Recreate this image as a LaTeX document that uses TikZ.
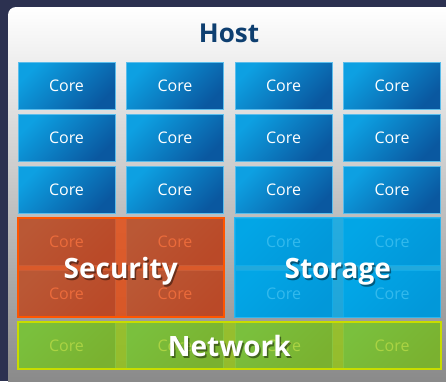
\documentclass[tikz,border=0pt]{standalone}
\usepackage{fontspec}
\setmainfont{Open Sans}
\usetikzlibrary{fit}

\definecolor{backnavy}{HTML}{2C3150}
\definecolor{panelgray}{HTML}{848484}
\definecolor{hostblue}{HTML}{0E3F70}
\definecolor{corelight}{HTML}{0DA0E2}
\definecolor{coredark}{HTML}{0A58A0}
\definecolor{coreedge}{HTML}{5BBDEB}
\definecolor{secfill}{HTML}{E6460A}
\definecolor{secedge}{HTML}{FF5500}
\definecolor{stofill}{HTML}{00A8E8}
\definecolor{stoedge}{HTML}{2DB6F0}
\definecolor{netfill}{HTML}{96C814}
\definecolor{netedge}{HTML}{C8DC00}

\begin{document}
\begin{tikzpicture}[x=1pt,y=-1pt,
    core/.style={rectangle,draw=coreedge,line width=0.6pt,
      top color=corelight,bottom color=coredark,shading angle=45,
      minimum width=97pt,minimum height=47pt,inner sep=0pt,
      text=white,font=\fontsize{16}{18}\selectfont},
    group/.style={rectangle,inner sep=0pt,line width=2pt,fill opacity=0.8},
    grouplabel/.style={anchor=base,text=white,font=\bfseries\fontsize{28}{30}\selectfont},
    groupshade/.style={grouplabel,text=black,opacity=0.45}]
  \useasboundingbox (0,0) rectangle (446,381);
  \clip (0,0) rectangle (446,381);
  \fill[backnavy] (0,0) rectangle (446,381);
  % host panel, white fading to gray
  \shade[rounded corners=8pt,top color=white,middle color=white,bottom color=panelgray]
    (8,7) rectangle (470,400);
  \node[anchor=base,text=hostblue,font=\bfseries\fontsize{26}{28}\selectfont] (host) at (229,42.7) {Host};
  % 6 x 4 cores
  \foreach \r in {1,...,6}
    \foreach \c in {1,...,4}
      \node[core] (core-\r-\c) at ({66.5+(\c-1)*108.5},{85.5+(\r-1)*52}) {Core};
  % groups laid over the cores
  \node[group,draw=secedge,fill=secfill,fit=(core-4-1)(core-5-2)] (security) {};
  \node[group,draw=stoedge,line width=1.2pt,fill=stofill,fit=(core-4-3)(core-5-4)] (storage) {};
  \node[group,draw=netedge,fill=netfill,fit=(core-6-1)(core-6-4)] (network) {};
  % labels with drop shadow
  \node[groupshade] (security-shade) at ([xshift=1.5pt,yshift=-12.5pt]security.center) {Security};
  \node[grouplabel] (security-label) at ([yshift=-10.5pt]security.center) {Security};
  \node[groupshade] (storage-shade) at ([xshift=1.5pt,yshift=-12.5pt]storage.center) {Storage};
  \node[grouplabel] (storage-label) at ([yshift=-10.5pt]storage.center) {Storage};
  \node[groupshade] (network-shade) at ([xshift=1.5pt,yshift=-12.5pt]network.center) {Network};
  \node[grouplabel] (network-label) at ([yshift=-10.5pt]network.center) {Network};
\end{tikzpicture}
\end{document}
